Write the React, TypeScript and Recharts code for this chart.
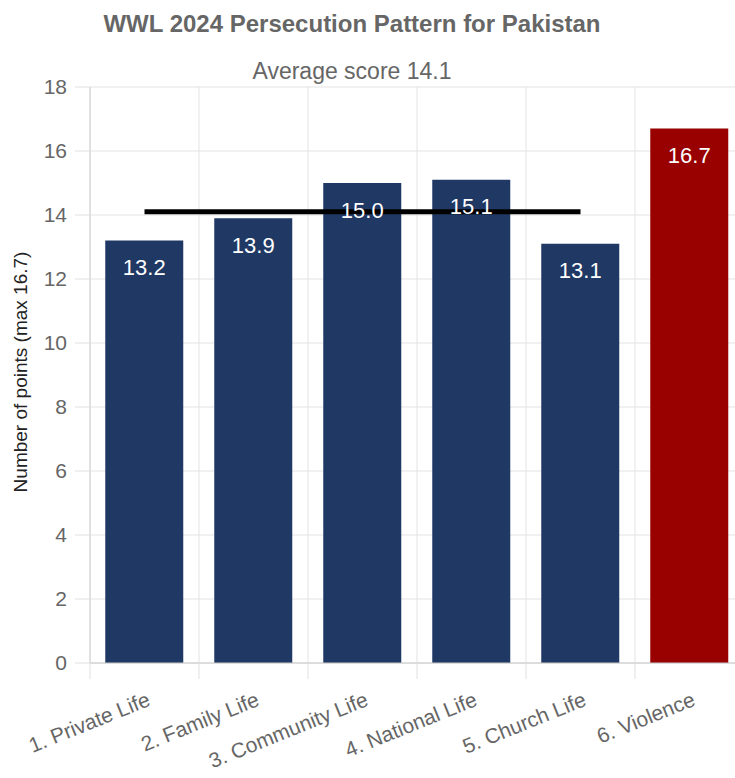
import React from 'react';
import {
  ComposedChart, Bar, Line, XAxis, YAxis, CartesianGrid, Cell, LabelList,
} from 'recharts';

const categories = [
  '1. Private Life',
  '2. Family Life',
  '3. Community Life',
  '4. National Life',
  '5. Church Life',
  '6. Violence',
];
const scores = [13.2, 13.9, 15.0, 15.1, 13.1, 16.7];
const averageLine = [14.1, 14.1, 14.1, 14.1, 14.1, null];
const barColors = ['#203864', '#203864', '#203864', '#203864', '#203864', '#990000'];
const yTicks = [0, 2, 4, 6, 8, 10, 12, 14, 16, 18];

const TITLE = 'WWL 2024 Persecution Pattern for Pakistan';
const SUBTITLE = 'Average score 14.1';
const Y_LABEL = 'Number of points (max 16.7)';

const data = categories.map((name, i) => ({
  name,
  value: scores[i],
  avg: averageLine[i],
}));

const CHART_W = 760;
const CHART_H = 778;
const MARGIN = { top: 87, right: 16, bottom: 0, left: 0 };
const YAXIS_W = 90;
const XAXIS_H = 115;
const PLOT_W = CHART_W - MARGIN.left - MARGIN.right - YAXIS_W;
const BAND = PLOT_W / categories.length;
const FONT = '"Liberation Sans", Arial, Helvetica, sans-serif';

const XTick = (props: any) => {
  const { x, y, payload } = props;
  const lx = x - BAND / 2;
  const ax = x + 7;
  const ay = y + 42;
  return (
    <g>
      <line x1={lx} y1={y} x2={lx} y2={y + 16} stroke="#e0e0e0" strokeWidth={1} />
      <text
        x={ax}
        y={ay}
        textAnchor="end"
        fill="#666"
        fontSize={21}
        fontFamily={FONT}
        transform={`rotate(-22, ${ax}, ${ay})`}
      >
        {payload.value}
      </text>
    </g>
  );
};

const YLabel = (props: any) => {
  const vb = props.viewBox || {};
  const cx = (vb.x ?? 0) + 27;
  const cy = (vb.y ?? 0) + (vb.height ?? 0) / 2 - 3;
  return (
    <text
      x={cx}
      y={cy}
      textAnchor="middle"
      fill="#222"
      fontSize={19}
      fontFamily={FONT}
      transform={`rotate(-90, ${cx}, ${cy})`}
    >
      {Y_LABEL}
    </text>
  );
};

export default function App() {
  return (
    <div
      style={{
        position: 'absolute',
        left: 0,
        top: 0,
        width: 735,
        height: 778,
        overflow: 'hidden',
        background: '#fff',
        fontFamily: FONT,
      }}
    >
      <div
        style={{
          position: 'absolute',
          left: 0,
          width: 704,
          top: 12,
          textAlign: 'center',
          fontSize: 24,
          lineHeight: '24px',
          fontWeight: 'bold',
          color: '#666',
          whiteSpace: 'nowrap',
        }}
      >
        {TITLE}
      </div>
      <div
        style={{
          position: 'absolute',
          left: 0,
          width: 704,
          top: 60,
          textAlign: 'center',
          fontSize: 23,
          lineHeight: '23px',
          color: '#666',
          whiteSpace: 'nowrap',
        }}
      >
        {SUBTITLE}
      </div>
      <div style={{ position: 'absolute', left: 0, top: 0 }}>
        <ComposedChart
          width={CHART_W}
          height={CHART_H}
          data={data}
          margin={MARGIN}
          barCategoryGap="14%"
        >
          <CartesianGrid
            stroke="#e3e3e3"
            verticalCoordinatesGenerator={({ offset }: any) =>
              categories.map((_, i) => offset.left + (i * offset.width) / categories.length).concat([
                offset.left + offset.width,
              ])
            }
          />
          <XAxis
            dataKey="name"
            interval={0}
            height={XAXIS_H}
            tickSize={0}
            tickMargin={0}
            tickLine={false}
            axisLine={{ stroke: '#c8c8c8' }}
            tick={<XTick />}
          />
          <XAxis dataKey="name" xAxisId="lab" hide />
          <YAxis
            width={YAXIS_W}
            domain={[0, 18]}
            ticks={yTicks}
            interval={0}
            tickSize={15}
            tickMargin={8}
            tickLine={{ stroke: '#e0e0e0' }}
            axisLine={{ stroke: '#d0d0d0' }}
            tick={{ fill: '#666', fontSize: 21, fontFamily: FONT }}
            label={<YLabel />}
          />
          <Bar dataKey="value" isAnimationActive={false}>
            {data.map((d, i) => (
              <Cell key={d.name} fill={barColors[i]} />
            ))}
          </Bar>
          <Line
            dataKey="avg"
            stroke="#000"
            strokeWidth={5}
            dot={false}
            activeDot={false}
            connectNulls={false}
            isAnimationActive={false}
          />
          <Bar dataKey="value" xAxisId="lab" fill="transparent" isAnimationActive={false}>
            <LabelList
              dataKey="value"
              position="insideTop"
              offset={19}
              fill="#fff"
              fontSize={22}
              fontFamily={FONT}
              formatter={(v: any) => Number(v).toFixed(1)}
            />
          </Bar>
        </ComposedChart>
      </div>
    </div>
  );
}
